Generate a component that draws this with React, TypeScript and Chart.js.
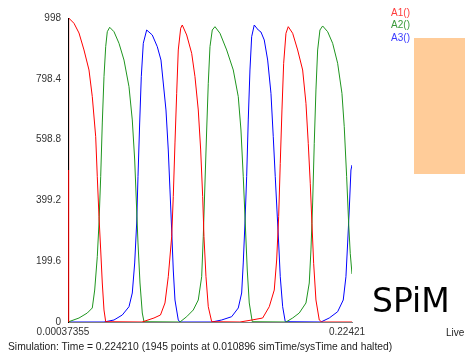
import React, { useEffect, useRef } from "react";
import { Chart, registerables } from "chart.js";

Chart.register(...registerables);

const X_MIN = 0.00037355;
const X_MAX = 0.22421;
const xTickLabels = ["0.00037355", "0.22421"];
const yTicks = [0, 199.6, 399.2, 598.8, 798.4, 998];
const seriesNames = ["A1()", "A2()", "A3()"];
const seriesColors = ["#ff0000", "#1f951f", "#0000ff"];
const legendColors = ["#ff3b3b", "#3a9a3a", "#3b3bff"];

const redT = [0.000374, 0.000926, 0.005102, 0.009042, 0.012982, 0.016922, 0.019522, 0.022202, 0.023462, 0.024802, 0.026142, 0.027402, 0.028742, 0.030082, 0.058686, 0.068142, 0.073264, 0.07681, 0.07941, 0.08209, 0.08335, 0.08469, 0.08603, 0.08729, 0.089182, 0.090442, 0.09391, 0.09785, 0.10045, 0.10305, 0.104942, 0.106518, 0.107542, 0.109118, 0.11093, 0.11361, 0.13591, 0.145366, 0.153798, 0.159, 0.162938, 0.16483, 0.166406, 0.167666, 0.169006, 0.170346, 0.172158, 0.17397, 0.177438, 0.181378, 0.185318, 0.187918, 0.18973, 0.191306, 0.192646, 0.193986, 0.195798, 0.198398, 0.20029, 0.22421];
const redV = [0, 998, 980.6, 948.8, 893, 827.3, 739.7, 608.3, 477, 345.7, 236.4, 128, 39.4, 1, 0, 13.1, 23, 62.4, 148.7, 280, 411.4, 587.7, 750.8, 893, 964.2, 975, 942.2, 882.1, 805.3, 696, 564.7, 411.4, 280, 148.7, 50.2, 1, 0, 6.6, 13.1, 50.2, 105, 203.5, 345.7, 521, 696, 849.3, 947.8, 969.5, 947.8, 893, 827.3, 718, 586.7, 455.4, 324, 192.7, 72.2, 6.6, 0, 0];

const greenT = [0.000374, 0.009042, 0.015582, 0.019522, 0.021414, 0.023462, 0.024802, 0.026142, 0.027402, 0.028742, 0.030082, 0.031342, 0.033234, 0.036622, 0.040562, 0.044502, 0.048442, 0.051042, 0.052934, 0.05451, 0.055534, 0.05711, 0.058922, 0.060262, 0.08863, 0.09391, 0.09911, 0.10305, 0.10573, 0.10699, 0.10833, 0.10967, 0.11093, 0.11227, 0.114082, 0.11621, 0.12015, 0.12543, 0.13063, 0.13457, 0.136698, 0.13851, 0.140086, 0.141662, 0.143238, 0.145602, 0.172158, 0.177438, 0.182638, 0.187918, 0.190518, 0.191858, 0.193198, 0.194458, 0.195798, 0.197138, 0.19895, 0.201078, 0.205018, 0.208958, 0.212898, 0.216286, 0.218098, 0.21999, 0.221566, 0.222826, 0.22421];
const greenV = [0, 13.1, 29.5, 46, 105, 214.4, 325, 477, 653.3, 805.3, 903.8, 953, 967.5, 953, 915, 860, 772.5, 663.2, 531.8, 367.7, 259.4, 128, 29.5, 1, 0, 17.4, 39.4, 72.2, 148.7, 280, 456.3, 630.3, 783.7, 903.8, 958.6, 969.5, 947.8, 893, 827.3, 739.7, 630.3, 477, 325, 170.7, 62.4, 1, 0, 13.1, 29.5, 62.4, 128, 236.4, 390.7, 586.7, 761.7, 893, 958.6, 971.8, 953, 915, 849.3, 750.8, 641.2, 477, 324, 225.5, 157.6];

const blueT = [0.000374, 0.028742, 0.036622, 0.043162, 0.048442, 0.051042, 0.052934, 0.05451, 0.055534, 0.056874, 0.058134, 0.05971, 0.06239, 0.066802, 0.070742, 0.073658, 0.075628, 0.077598, 0.07941, 0.08075, 0.08209, 0.08335, 0.08469, 0.08729, 0.08863, 0.113846, 0.12149, 0.12937, 0.13457, 0.13725, 0.13851, 0.13985, 0.14119, 0.14245, 0.14379, 0.14513, 0.147178, 0.15033, 0.152458, 0.155058, 0.157738, 0.160338, 0.16215, 0.163726, 0.165066, 0.166406, 0.167666, 0.169558, 0.171606, 0.199738, 0.206278, 0.212898, 0.21731, 0.219438, 0.220778, 0.222038, 0.223378, 0.22421];
const blueV = [0, 0, 6.6, 23, 50.2, 95.2, 193.7, 325, 477, 653.3, 805.3, 915, 958.6, 942.2, 903.8, 860, 778, 696, 564.7, 433.4, 302, 170.7, 72.2, 6.6, 0, 0, 6.6, 17.4, 46, 95.2, 193.7, 325, 477, 663.2, 827.3, 936.6, 975, 958.6, 952, 925.8, 860, 750.8, 608.3, 477, 367.7, 259.4, 148.7, 50.2, 1, 0, 13.1, 33.8, 72.2, 148.7, 259.4, 367.7, 499, 515.4];

const initialAxisValue = 499;

const toPoints = (t: number[], v: number[]) => t.map((x, i) => ({ x, y: v[i] }));

const axisOverlay = {
  id: "axisOverlay",
  afterDatasetsDraw(chart: any) {
    const { ctx, scales } = chart;
    const px = Math.round(scales.x.getPixelForValue(X_MIN)) + 0.5;
    ctx.save();
    ctx.strokeStyle = "#000000";
    ctx.lineWidth = 1;
    ctx.beginPath();
    ctx.moveTo(px, scales.y.getPixelForValue(yTicks[yTicks.length - 1]));
    ctx.lineTo(px, scales.y.getPixelForValue(initialAxisValue));
    ctx.stroke();
    ctx.restore();
  },
};

export default function App() {
  const ref = useRef<HTMLCanvasElement | null>(null);

  useEffect(() => {
    document.body.style.margin = "0";
    const series = [toPoints(redT, redV), toPoints(greenT, greenV), toPoints(blueT, blueV)];
    const chart = new Chart(ref.current as HTMLCanvasElement, {
      type: "line",
      data: {
        datasets: series.map((data, i) => ({
          label: seriesNames[i],
          data,
          borderColor: seriesColors[i],
          borderWidth: 1,
          pointRadius: 0,
          tension: 0,
          fill: false,
        })),
      },
      options: {
        animation: false,
        responsive: false,
        parsing: true,
        layout: { padding: { left: 0, top: 18, right: 113, bottom: 0 } },
        plugins: { legend: { display: false }, tooltip: { enabled: false } },
        scales: {
          x: {
            type: "linear",
            min: X_MIN,
            max: X_MAX,
            grid: { display: false, drawTicks: false },
            border: { display: true, color: "#808080", width: 1 },
            afterBuildTicks: (scale: any) => {
              scale.ticks = [{ value: X_MIN }, { value: X_MAX }];
            },
            afterFit: (scale: any) => {
              scale.height = 37;
            },
            ticks: {
              autoSkip: false,
              maxRotation: 0,
              padding: 4,
              labelOffset: -5,
              color: "#333333",
              font: { family: "'Liberation Sans', Arial, sans-serif", size: 10 },
              callback: (_v: any, i: number) => xTickLabels[i],
            },
          },
          y: {
            type: "linear",
            min: 0,
            max: yTicks[yTicks.length - 1],
            grid: { display: false, drawTicks: false },
            border: { display: true, color: "#000000", width: 1 },
            afterBuildTicks: (scale: any) => {
              scale.ticks = yTicks.map((value) => ({ value }));
            },
            afterFit: (scale: any) => {
              scale.width = 68;
            },
            ticks: {
              autoSkip: false,
              padding: 7,
              color: "#333333",
              font: { family: "'Liberation Sans', Arial, sans-serif", size: 10 },
              callback: (v: any) => String(v),
            },
          },
        },
      },
      plugins: [axisOverlay],
    });
    return () => chart.destroy();
  }, []);

  const textFont = "'Liberation Sans', Arial, sans-serif";

  return (
    <div style={{ position: "fixed", left: 0, top: 0, width: 465, height: 359, background: "#ffffff", overflow: "hidden" }}>
      <canvas ref={ref} width={465} height={359} style={{ position: "absolute", left: 0, top: 0, width: 465, height: 359 }} />
      {seriesNames.map((n, i) => (
        <div
          key={n}
          style={{
            position: "absolute",
            right: 55,
            top: 7.7 + i * 12.5,
            font: `10px ${textFont}`,
            lineHeight: "10px",
            color: legendColors[i],
            whiteSpace: "nowrap",
          }}
        >
          {n}
        </div>
      ))}
      <div style={{ position: "absolute", left: 414, top: 38, width: 51, height: 136, background: "#ffcc99" }} />
      <div
        style={{
          position: "absolute",
          left: 372,
          top: 284,
          font: `33px 'DejaVu Sans', sans-serif`,
          lineHeight: "33px",
          color: "#000000",
          whiteSpace: "nowrap",
        }}
      >
        SPiM
      </div>
      <div style={{ position: "absolute", left: 446, top: 328, font: `10px ${textFont}`, lineHeight: "10px", color: "#222222" }}>Live</div>
      <div
        style={{
          position: "absolute",
          left: 8,
          top: 342,
          font: `10.3px ${textFont}`,
          lineHeight: "10.3px",
          color: "#222222",
          whiteSpace: "nowrap",
        }}
      >
        Simulation: Time = 0.224210 (1945 points at 0.010896 simTime/sysTime and halted)
      </div>
    </div>
  );
}
